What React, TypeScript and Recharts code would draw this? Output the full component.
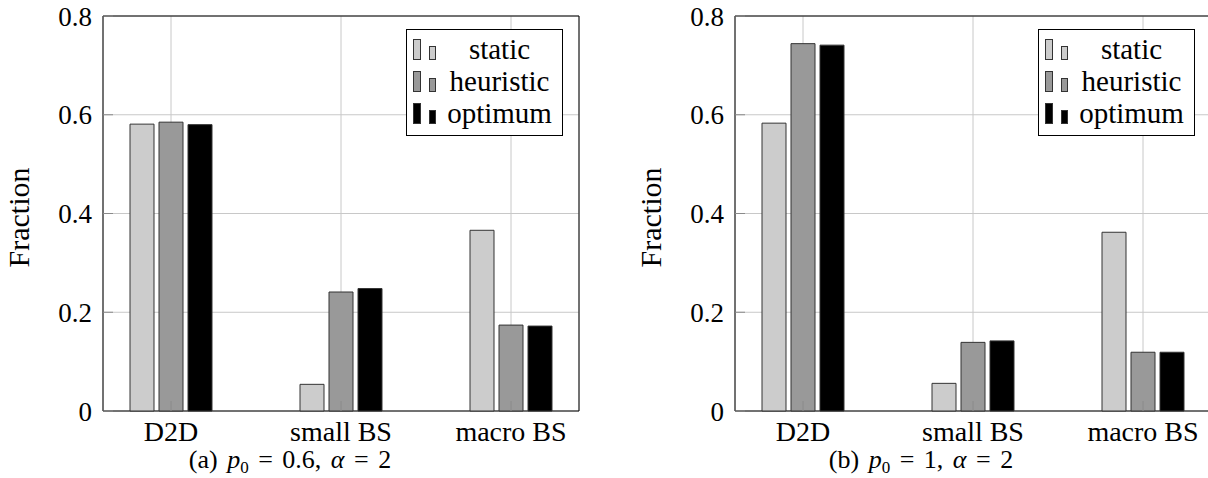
import React from 'react';
import { BarChart, Bar, XAxis, YAxis, CartesianGrid, Legend, ReferenceArea, Label } from 'recharts';

// categories on the x axis
const categories = ['D2D', 'small BS', 'macro BS'];
const categoryPos = [0, 1, 2];

// (a) p0 = 0.6, alpha = 2
const staticA = [0.581, 0.054, 0.366];
const heuristicA = [0.585, 0.241, 0.174];
const optimumA = [0.58, 0.248, 0.172];

// (b) p0 = 1, alpha = 2
const staticB = [0.583, 0.056, 0.362];
const heuristicB = [0.744, 0.139, 0.119];
const optimumB = [0.741, 0.142, 0.119];

const yTicks = [0, 0.2, 0.4, 0.6, 0.8];
const seriesNames = ['static', 'heuristic', 'optimum'];
const seriesColors = ['#cccccc', '#999999', '#000000'];

const FONT = 'Liberation Serif';
const TICK_GRAY = '#8a8a8a';

function buildRows(s: number[], h: number[], o: number[]) {
  return categoryPos.map((pos, i) => ({
    pos,
    static: s[i],
    heuristic: h[i],
    optimum: o[i],
  }));
}

// y tick label plus a short inward tick mark (pgfplots look)
function YTick(p: any) {
  return (
    <g>
      <line x1={p.x + 11} x2={p.x + 21} y1={p.y} y2={p.y} stroke={TICK_GRAY} />
      <text x={p.x} y={p.y} dy="0.355em" textAnchor="end" fontFamily={FONT} fontSize={27} fill="#000">
        {p.payload.value}
      </text>
    </g>
  );
}

function XTick(p: any) {
  return (
    <g>
      <line x1={p.x} x2={p.x} y1={p.y - 10} y2={p.y - 20} stroke={TICK_GRAY} />
      <text x={p.x} y={p.y} dy="0.71em" textAnchor="middle" fontFamily={FONT} fontSize={28} fill="#000">
        {categories[p.payload.value]}
      </text>
    </g>
  );
}

// pgfplots style legend: two small bars + label, in series order
function LegendBox() {
  return (
    <div
      style={{
        width: 157,
        height: 107,
        boxSizing: 'border-box',
        border: '1px solid #000',
        background: '#fff',
        paddingTop: 2,
        fontFamily: FONT,
        fontSize: 29,
        color: '#000',
      }}
    >
      {seriesNames.map((name, i) => (
        <div key={name} style={{ display: 'flex', alignItems: 'flex-end', height: 32 }}>
          <svg width={34} height={26} style={{ flex: 'none', marginBottom: 3 }}>
            <rect x={6.5} y={4.5} width={7} height={20} fill={seriesColors[i]} stroke="#333" />
            <rect x={22.5} y={11.5} width={6} height={13} fill={seriesColors[i]} stroke="#333" />
          </svg>
          <div style={{ flex: 1, textAlign: 'center', lineHeight: '30px', paddingRight: 4 }}>{name}</div>
        </div>
      ))}
    </div>
  );
}

function FractionChart({ rows }: { rows: any[] }) {
  return (
    <BarChart
      width={600}
      height={478}
      data={rows}
      margin={{ top: 16, right: 21, bottom: 27, left: 0 }}
      barGap={5}
    >
      <CartesianGrid stroke="#c8c8c8" strokeWidth={1} />
      <XAxis
        type="number"
        dataKey="pos"
        domain={[-0.4, 2.4]}
        ticks={categoryPos}
        interval={0}
        allowDataOverflow
        axisLine={false}
        tickLine={false}
        tickSize={0}
        tickMargin={10}
        height={40}
        tick={XTick}
      />
      <XAxis
        xAxisId="top"
        orientation="top"
        mirror
        type="number"
        domain={[-0.4, 2.4]}
        ticks={categoryPos}
        interval={0}
        allowDataOverflow
        axisLine={false}
        tick={false}
        tickSize={10}
        tickLine={{ stroke: TICK_GRAY }}
        height={0}
      />
      <YAxis
        type="number"
        domain={[0, 0.8]}
        ticks={yTicks}
        interval={0}
        axisLine={false}
        tickLine={false}
        tickSize={0}
        tickMargin={11}
        width={103}
        tick={YTick}
      >
        <Label
          content={(p: any) => {
            const vb = p.viewBox || { x: 0, y: 16, height: 395 };
            const cx = vb.x + 18;
            const cy = vb.y + vb.height / 2 + 4;
            return (
              <text
                x={cx}
                y={cy}
                transform={`rotate(-90, ${cx}, ${cy})`}
                textAnchor="middle"
                dominantBaseline="central"
                fontFamily={FONT}
                fontSize={30}
                fill="#000"
              >
                Fraction
              </text>
            );
          }}
        />
      </YAxis>
      <YAxis
        yAxisId="right"
        orientation="right"
        mirror
        type="number"
        domain={[0, 0.8]}
        ticks={yTicks}
        interval={0}
        axisLine={false}
        tick={false}
        tickSize={10}
        tickLine={{ stroke: TICK_GRAY }}
        width={0}
      />
      <Legend
        layout="vertical"
        align="center"
        verticalAlign="middle"
        content={LegendBox}
        wrapperStyle={{ position: 'absolute', left: 406, top: 29, width: 157, height: 107 }}
      />
      {seriesNames.map((name, i) => (
        <Bar
          key={name}
          dataKey={name}
          name={name}
          fill={seriesColors[i]}
          stroke="#333"
          strokeWidth={1}
          barSize={24}
          isAnimationActive={false}
        />
      ))}
      <ReferenceArea
        x1={-0.4}
        x2={2.4}
        y1={0}
        y2={0.8}
        fill="none"
        fillOpacity={0}
        stroke="#000"
        strokeWidth={1}
        ifOverflow="visible"
      />
    </BarChart>
  );
}

function Caption({ tag, p0, center }: { tag: string; p0: string; center: number }) {
  return (
    <div
      style={{
        position: 'absolute',
        top: 448,
        left: center - 150,
        width: 300,
        textAlign: 'center',
        fontFamily: FONT,
        fontSize: 26,
        lineHeight: '24px',
        wordSpacing: 3,
        color: '#000',
        whiteSpace: 'nowrap',
      }}
    >
      ({tag}) <i>p</i>
      <span style={{ fontSize: 17, position: 'relative', top: 5 }}>0</span> = {p0}, <i>α</i> = 2
    </div>
  );
}

export default function App() {
  const rowsA = buildRows(staticA, heuristicA, optimumA);
  const rowsB = buildRows(staticB, heuristicB, optimumB);
  return (
    <div style={{ position: 'absolute', left: 0, top: 0, width: 1208, height: 478, overflow: 'hidden', background: '#fff' }}>
      <div style={{ position: 'absolute', left: 0, top: 0 }}>
        <FractionChart rows={rowsA} />
      </div>
      <div style={{ position: 'absolute', left: 632, top: 0 }}>
        <FractionChart rows={rowsB} />
      </div>
      <Caption tag="a" p0="0.6" center={290} />
      <Caption tag="b" p0="1" center={921} />
    </div>
  );
}
